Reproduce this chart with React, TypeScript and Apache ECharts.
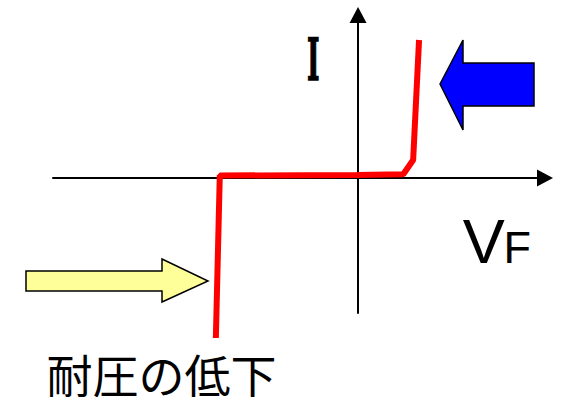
import React, { useEffect, useRef } from "react";
import * as echarts from "echarts";

// Diode I–V curve (arbitrary units)
const curveVoltage = [-2.89, -2.81, 0.0, 0.92, 1.12, 1.24];
const curveCurrent = [-16.0, 0.25, 0.3, 0.38, 1.8, 13.8];

const xRange = [-6.2, 3.8];
const yRange = [-13.5, 16.3];

const currentLabel = "I";
const voltageLabelMain = "V";
const voltageLabelSub = "F";
const breakdownLabel = "耐圧の低下";

export default function App() {
  const ref = useRef<HTMLDivElement>(null);

  useEffect(() => {
    if (!ref.current) return;
    const chart = echarts.init(ref.current, null, { renderer: "svg" });
    const data = curveVoltage.map((v, i) => [v, curveCurrent[i]]);
    const axisCommon = {
      type: "value" as const,
      axisLine: {
        show: true,
        onZero: true,
        symbol: ["none", "triangle"],
        symbolSize: [17, 16],
        lineStyle: { color: "#000", width: 2 },
      },
      axisTick: { show: false },
      axisLabel: { show: false },
      splitLine: { show: false },
    };
    chart.setOption({
      animation: false,
      backgroundColor: "#ffffff",
      grid: { left: 53, right: 16, top: 15, bottom: 84 },
      xAxis: { ...axisCommon, min: xRange[0], max: xRange[1] },
      yAxis: { ...axisCommon, min: yRange[0], max: yRange[1] },
      series: [
        {
          type: "line",
          data,
          symbol: "none",
          clip: false,
          lineStyle: { color: "#ff0000", width: 6 },
        },
      ],
      graphic: [
        {
          type: "polygon",
          shape: {
            points: [
              [440, 84],
              [463, 40],
              [463, 63],
              [534, 63],
              [534, 106],
              [463, 106],
              [463, 130],
            ],
          },
          style: { fill: "#0000ff", stroke: "#000", lineWidth: 1.5 },
        },
        {
          type: "polygon",
          shape: {
            points: [
              [26, 271],
              [162, 271],
              [162, 259],
              [208, 281],
              [162, 302],
              [162, 291],
              [26, 291],
            ],
          },
          style: { fill: "#ffff99", stroke: "#000", lineWidth: 1.5 },
        },
        {
          type: "text",
          x: 313.3,
          y: 60.5,
          scaleX: 0.47,
          style: {
            text: currentLabel,
            fontFamily: "DejaVu Serif",
            fontWeight: "bold",
            fontSize: 57,
            fill: "#000",
            stroke: "#000",
            lineWidth: 1.4,
            align: "center",
            verticalAlign: "middle",
          },
        },
        {
          type: "text",
          x: 462.7,
          y: 241.2,
          style: {
            text: voltageLabelMain,
            fontFamily: "Liberation Sans",
            fontSize: 63,
            fill: "#000",
            align: "left",
            verticalAlign: "middle",
          },
        },
        {
          type: "text",
          x: 503.5,
          y: 247.4,
          style: {
            text: voltageLabelSub,
            fontFamily: "Liberation Sans",
            fontSize: 45,
            fill: "#000",
            align: "left",
            verticalAlign: "middle",
          },
        },
        {
          type: "text",
          x: 46.5,
          y: 373,
          style: {
            text: breakdownLabel,
            fontFamily: "Noto Sans CJK JP",
            fontSize: 46,
            fill: "#000",
            align: "left",
            verticalAlign: "middle",
          },
        },
      ],
    });
    return () => chart.dispose();
  }, []);

  return (
    <div
      ref={ref}
      style={{ position: "fixed", left: 0, top: 0, width: 561, height: 397 }}
    />
  );
}
